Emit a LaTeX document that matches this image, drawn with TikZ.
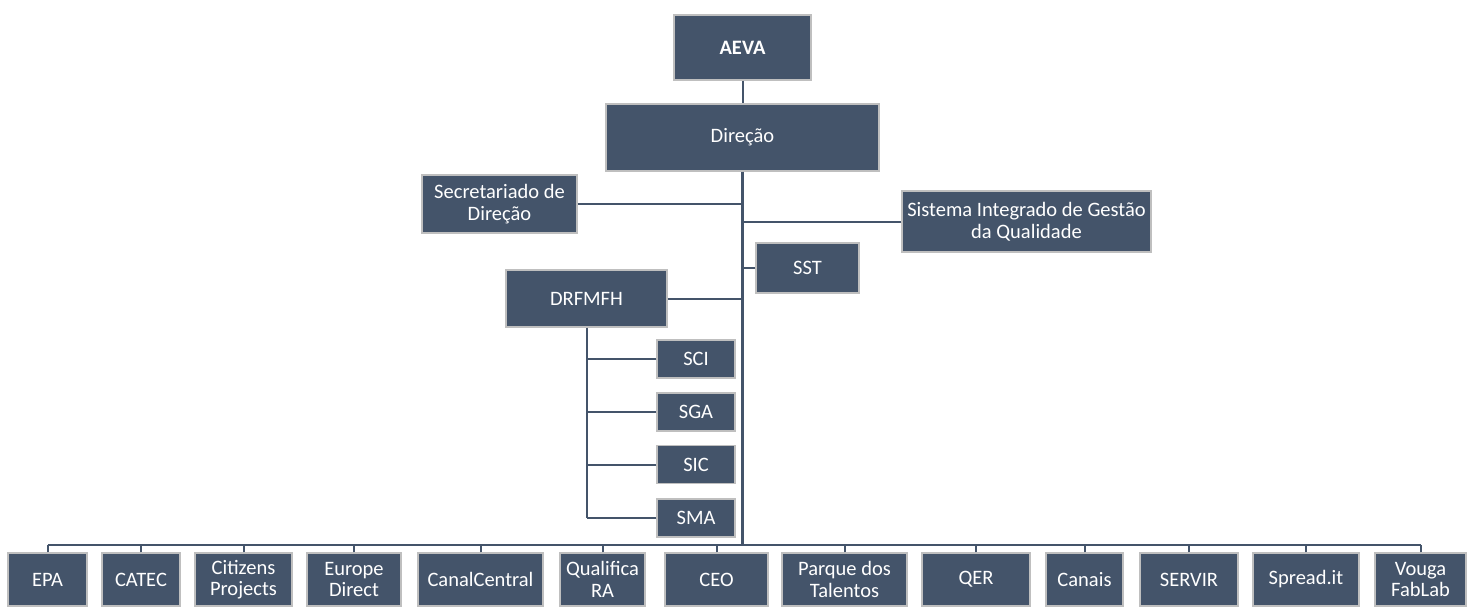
\documentclass[tikz,border=0pt]{standalone}
\usepackage{fontspec}
\setmainfont{Carlito}
\usepackage{tikz}
\usetikzlibrary{positioning,calc}
\definecolor{unitfill}{RGB}{68,84,106}
\definecolor{unitline}{RGB}{191,191,191}
\definecolor{linkc}{RGB}{68,84,106}
\tikzset{
  unit/.style={rectangle, draw=unitline, line width=1.2pt, fill=unitfill, text=white,
               inner sep=1pt, align=center, font=\fontsize{20.5}{21.5}\selectfont},
  topunit/.style={unit, font=\fontsize{20.5}{21.5}\selectfont\bfseries},
  link/.style={draw=linkc, line width=2pt},
  trunk/.style={draw=linkc, line width=3pt}
}
\begin{document}
\begin{tikzpicture}[x=1pt, y=-1pt]
\useasboundingbox (0,0) rectangle (1469,608);
% top
\node (aeva) [topunit, minimum width=137pt, minimum height=65pt] at (742.5,47.5) {AEVA};
\node (direcao) [unit, minimum width=273pt, minimum height=67pt] at (742.5,137.5) {Direção};
% staff units
\node (secr) [unit, minimum width=155pt, minimum height=58pt] at (499.5,204) {Secretariado de\\Direção};
\node (sig) [unit, minimum width=249pt, minimum height=61pt] at (1026.5,221.5) {Sistema Integrado de Gestão\\da Qualidade};
\node (sst) [unit, minimum width=103pt, minimum height=50pt] at (807.5,268) {SST};
\node (drfmfh) [unit, minimum width=161pt, minimum height=57pt] at (586.5,298.5) {DRFMFH};
\node (sci) [unit, minimum width=78pt, minimum height=38pt] at (696,359) {SCI};
\node (sga) [unit, minimum width=78pt, minimum height=38pt] at (696,412) {SGA};
\node (sic) [unit, minimum width=78pt, minimum height=38pt] at (696,464.5) {SIC};
\node (sma) [unit, minimum width=78pt, minimum height=38pt] at (696,518) {SMA};
% bottom row
\node (epa) [unit, minimum width=79pt, minimum height=53pt] at (47.5,579.5) {EPA};
\node (catec) [unit, minimum width=78pt, minimum height=53pt] at (141,579.5) {CATEC};
\node (citizens) [unit, minimum width=97pt, minimum height=53pt] at (243.5,579.5) {Citizens\\Projects};
\node (europe) [unit, minimum width=94pt, minimum height=53pt] at (354,579.5) {Europe\\Direct};
\node (canal) [unit, minimum width=125pt, minimum height=53pt] at (480.5,579.5) {CanalCentral};
\node (qualifica) [unit, minimum width=85pt, minimum height=53pt] at (602.5,579.5) {Qualifica\\RA};
\node (ceo) [unit, minimum width=103pt, minimum height=53pt] at (716.5,579.5) {CEO};
\node (parque) [unit, minimum width=125pt, minimum height=53pt] at (844.5,579.5) {Parque dos\\Talentos};
\node (qer) [unit, minimum width=108pt, minimum height=53pt] at (976,579.5) {QER};
\node (canais) [unit, minimum width=77pt, minimum height=53pt] at (1084.5,579.5) {Canais};
\node (servir) [unit, minimum width=98pt, minimum height=53pt] at (1189,579.5) {SERVIR};
\node (spread) [unit, minimum width=106pt, minimum height=53pt] at (1306,579.5) {Spread.it};
\node (vouga) [unit, minimum width=91pt, minimum height=53pt] at (1420.5,579.5) {Vouga\\FabLab};
\coordinate (bus) at (742.5,545);

% connectors
\draw[link] (aeva.south) -- (direcao.north);
\draw[trunk] (direcao.south) -- (direcao.south |- bus);
\draw[link] (secr.east) -- (secr.east -| direcao.south);
\draw[link] (sig.west) -- (sig.west -| direcao.south);
\draw[link] (sst.west) -- (sst.west -| direcao.south);
\draw[link] (drfmfh.east) -- (drfmfh.east -| direcao.south);
\draw[link] (drfmfh.south) -- (drfmfh.south |- sma.west);
\foreach \u in {sci,sga,sic,sma}
  \draw[link] (\u.west) -- (\u.west -| drfmfh.south);
\draw[link] (epa.north |- bus) -- (vouga.north |- bus);
\foreach \u in {epa,catec,citizens,europe,canal,qualifica,ceo,parque,qer,canais,servir,spread,vouga}
  \draw[link] (\u.north) -- (\u.north |- bus);
\end{tikzpicture}
\end{document}
